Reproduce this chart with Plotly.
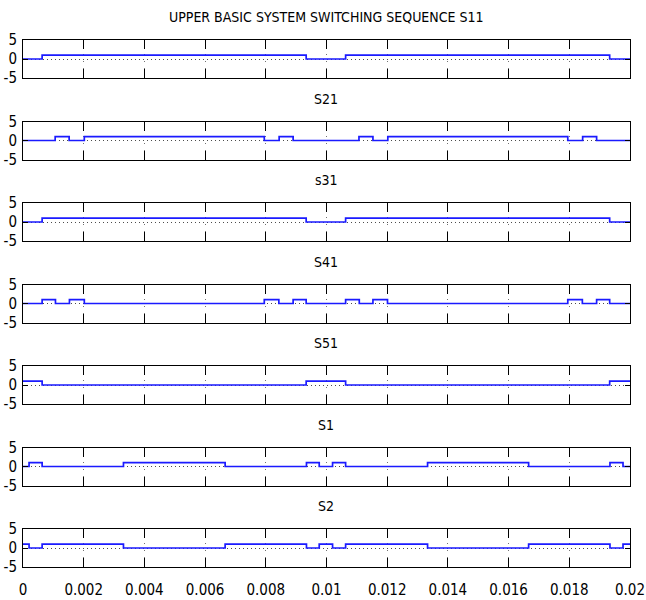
import plotly.graph_objects as go
from plotly.subplots import make_subplots

# ---- data ----
titles = ["UPPER BASIC SYSTEM SWITCHING SEQUENCE S11", "S21", "s31", "S41", "S51", "S1", "S2"]

s11_t = [0, 0.00063, 0.00933, 0.01063, 0.01933, 0.02]
s11_v = [0, 1, 0, 1, 0, 0]

s21_t = [0, 0.00106, 0.00152, 0.00202, 0.00795, 0.00844, 0.0089,
         0.01107, 0.01153, 0.01202, 0.01795, 0.01844, 0.0189, 0.02]
s21_v = [0, 1, 0, 1, 0, 1, 0, 1, 0, 1, 0, 1, 0, 0]

s31_t = [0, 0.00063, 0.00933, 0.01063, 0.01933, 0.02]
s31_v = [0, 1, 0, 1, 0, 0]

s41_t = [0, 0.00063, 0.00107, 0.00153, 0.00202, 0.00795, 0.00843, 0.0089, 0.00933,
         0.01063, 0.01108, 0.01153, 0.01201, 0.01795, 0.01843, 0.0189, 0.01933, 0.02]
s41_v = [0, 1, 0, 1, 0, 1, 0, 1, 0, 1, 0, 1, 0, 1, 0, 1, 0, 0]

s51_t = [0, 0.00063, 0.00933, 0.01063, 0.01933, 0.02]
s51_v = [1, 0, 1, 0, 1, 1]

s1_t = [0, 0.0002, 0.00063, 0.00331, 0.00666, 0.00934, 0.00976, 0.0102, 0.01063,
        0.01333, 0.01666, 0.01934, 0.01977, 0.02]
s1_v = [0, 1, 0, 1, 0, 1, 0, 1, 0, 1, 0, 1, 0, 0]

s2_t = [0, 0.0002, 0.00063, 0.00331, 0.00666, 0.00934, 0.00976, 0.0102, 0.01063,
        0.01333, 0.01666, 0.01934, 0.01977, 0.02]
s2_v = [1, 0, 1, 0, 1, 0, 1, 0, 1, 0, 1, 0, 1, 1]

x_tick_vals = [0, 0.002, 0.004, 0.006, 0.008, 0.01, 0.012, 0.014, 0.016, 0.018, 0.02]
x_tick_text = ["0", "0.002", "0.004", "0.006", "0.008", "0.01", "0.012", "0.014", "0.016", "0.018", "0.02"]
y_tick_vals = [-5, 0, 5]
y_tick_text = ["-5", "0", "5"]

series = [(s11_t, s11_v), (s21_t, s21_v), (s31_t, s31_v), (s41_t, s41_v),
          (s51_t, s51_v), (s1_t, s1_v), (s2_t, s2_v)]

# ---- layout geometry ----
W, H = 646, 600
LEFT, RIGHT = 23, 630
TOP0, STEP, BOXH = 40, 81.5, 38
FONT = "DejaVu Sans Condensed, Liberation Sans Narrow, Arial Narrow, sans-serif"

n = len(series)
fig = make_subplots(rows=n, cols=1)

annotations = []
for i, (t, v) in enumerate(series):
    r = i + 1
    fig.add_trace(go.Scatter(x=t, y=v, mode="lines", line=dict(color="#1a1aff", width=1.7, shape="hv"),
                             showlegend=False, hoverinfo="skip"), row=r, col=1)
    top = TOP0 + STEP * i
    bot = top + BOXH
    xa = "xaxis" if r == 1 else f"xaxis{r}"
    ya = "yaxis" if r == 1 else f"yaxis{r}"
    fig.layout[xa].update(
        domain=[LEFT / W, RIGHT / W], range=[0, 0.02],
        tickvals=x_tick_vals, ticktext=x_tick_text, showticklabels=(r == n),
        ticks="inside", ticklen=9, tickcolor="black", tickwidth=1,
        showline=True, linecolor="black", linewidth=1, mirror="ticks",
        showgrid=True, gridcolor="rgba(0,0,0,0.55)", gridwidth=1, griddash="1px,6px",
        zeroline=False, tickfont=dict(family=FONT, size=15, color="black"),
        ticklabelstandoff=9, automargin=False,
    )
    fig.layout[ya].update(
        domain=[1 - bot / H, 1 - top / H], range=[-5, 5],
        tickvals=y_tick_vals, ticktext=y_tick_text,
        ticks="inside", ticklen=5, tickcolor="black",
        showline=True, linecolor="black", linewidth=1, mirror="ticks",
        showgrid=True, gridcolor="rgba(0,0,0,0.7)", gridwidth=1, griddash="1px,3px",
        zeroline=False, tickfont=dict(family=FONT, size=15, color="black"),
        ticklabelstandoff=2, automargin=False,
    )
    annotations.append(dict(text=titles[i], x=(LEFT + RIGHT) / 2 / W, y=1 - (top - 23) / H,
                            xref="paper", yref="paper", xanchor="center", yanchor="middle",
                            showarrow=False, font=dict(family=FONT, size=14, color="black")))

fig.update_layout(width=W, height=H, autosize=False, margin=dict(l=0, r=0, t=0, b=0, pad=0),
                  paper_bgcolor="white", plot_bgcolor="white", annotations=annotations,
                  showlegend=False)
fig.write_html("out.html", config={"displayModeBar": False},
               post_script="document.documentElement.style.margin='0';document.body.style.margin='0';"
                           "document.documentElement.style.overflow='hidden';document.body.style.overflow='hidden';")
